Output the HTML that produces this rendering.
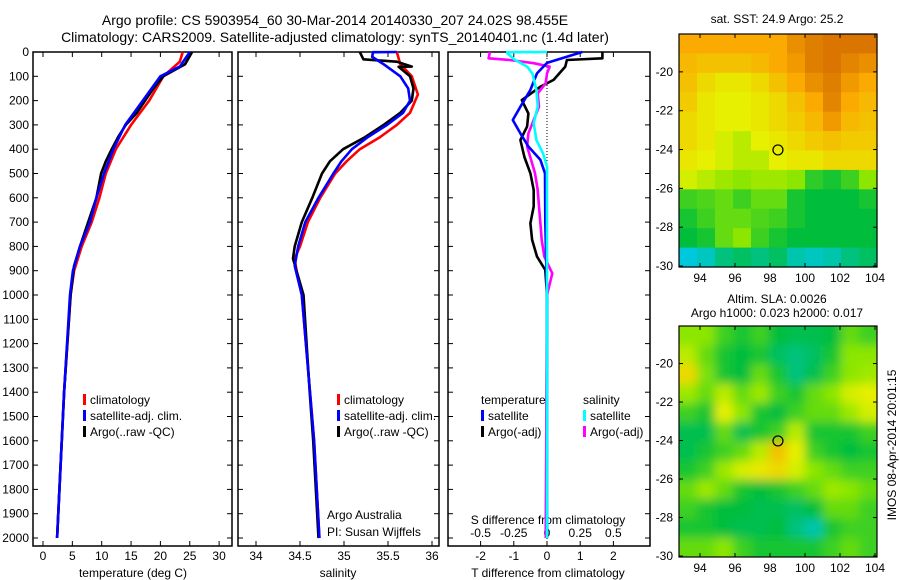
<!DOCTYPE html>
<html><head><meta charset="utf-8"><style>
body{margin:0;background:#fff;}
svg{display:block;font-family:"Liberation Sans",sans-serif;}
</style></head><body>
<svg id="s" width="900" height="580" xmlns="http://www.w3.org/2000/svg">
<defs><filter id="blur" x="0" y="0" width="100%" height="100%"><feGaussianBlur stdDeviation="5"/></filter>
<clipPath id="c2"><rect x="679" y="326" width="198" height="231"/></clipPath></defs>
<g font-size="14" text-anchor="middle">
<text x="335" y="25">Argo profile: CS 5903954_60 30-Mar-2014 20140330_207 24.02S 98.455E</text>
<text x="335" y="42">Climatology: CARS2009. Satellite-adjusted climatology: synTS_20140401.nc (1.4d later)</text>
</g>
</svg>
<script>
// ---- data ----
const tDepthClim=[0,40,100,200,300,400,500,600,700,800,900,1000,1400,2000];
const tClim=[23.8,23.3,20.5,18.1,15,12.4,10.7,9.6,8.3,6.6,5.3,4.7,3.6,2.4];
const tDepthSat=[0,60,100,200,300,400,500,600,700,800,900,1000,1400,2000];
const tSat=[25,23.3,20,17,14,12,10.4,9.1,8,6.3,5.1,4.6,3.6,2.4];
const tDepthArgo=[0,50,100,150,200,250,300,350,400,450,500,600,700,800,880,1000,1400,2000];
const tArgo=[25.4,24.2,20.5,18.8,17.4,16,14.1,12.8,11.7,10.7,9.9,9.1,7.7,6.3,5.3,4.7,3.6,2.4];
const sDepthClim=[0,50,100,175,250,300,350,400,450,500,600,700,800,850,900,1000,1600,2000];
const sClim=[35.6,35.64,35.77,35.84,35.75,35.6,35.41,35.18,35.03,34.9,34.73,34.59,34.5,34.44,34.46,34.52,34.66,34.72];
const sDepthSat=[0,1,20,50,100,150,200,250,300,350,400,450,500,600,700,800,880,1000,1600,2000];
const sSat=[35.6,35.33,35.32,35.45,35.64,35.73,35.75,35.67,35.49,35.27,35.09,34.97,34.88,34.71,34.56,34.48,34.44,34.52,34.66,34.72];
const sDepthArgo=[0,30,40,60,61,100,150,200,250,300,350,400,450,500,600,700,800,850,900,1000,1400,1600,2000];
const sArgo=[35.18,35.22,35.6,35.77,35.62,35.75,35.79,35.77,35.64,35.45,35.24,34.99,34.84,34.75,34.64,34.52,34.44,34.42,34.46,34.54,34.61,34.65,34.71];
const dDepthTSat=[0,45,88,156,225,280,335,389,444,499,700,1000,2000];
const dTSat=[1.06,0,-0.3,-0.5,-0.8,-1.03,-0.8,-0.56,-0.2,-0.06,-0.05,0,0];
const dDepthTArgo=[0,26,33,60,115,143,198,253,307,362,432,499,568,636,705,773,842,897,1000,2000];
const dTArgo=[1.67,1.67,0.6,0.55,0.2,-0.2,-0.76,-0.56,-0.6,-0.8,-0.68,-0.5,-0.4,-0.4,-0.5,-0.45,-0.3,-0.05,0,-0.02];
const dDepthSArgo=[0,26,33,46,60,88,129,170,225,280,335,389,444,499,568,636,705,773,842,911,1000,2000];
const dSArgo=[-0.43,-0.44,-0.28,-0.1,0.02,0.0,-0.01,-0.07,-0.06,-0.1,-0.14,-0.15,-0.12,-0.09,-0.07,-0.06,-0.05,-0.04,-0.02,0.04,0,-0.01];
const dDepthSSat=[0,1,5,33,60,88,156,225,293,362,417,472,2000];
const dSSat=[0,-0.3,-0.3,-0.24,-0.15,-0.11,-0.08,-0.07,-0.1,-0.08,-0.03,0,0];
const depthTicks=[0,100,200,300,400,500,600,700,800,900,1000,1100,1200,1300,1400,1500,1600,1700,1800,1900,2000];
const tTicks=[0,5,10,15,20,25,30];
const sTicks=[34,34.5,35,35.5,36];
const sTickLabels=["34","34.5","35","35.5","36"];
const dTTicks=[-2,-1,0,1,2];
const dSTicks=[-0.5,-0.25,0,0.25,0.5];
const lonTicks=[94,96,98,100,102,104];
const latTicks=[-20,-22,-24,-26,-28,-30];
const sstGrid=[
[.85,.85,.85,.85,.85,.85,.9,.93,.95,.95,.95],
[.82,.8,.8,.8,.82,.85,.88,.93,.95,.92,.9],
[.8,.75,.72,.72,.75,.8,.85,.9,.93,.88,.85],
[.78,.72,.7,.7,.72,.75,.8,.85,.92,.85,.82],
[.75,.72,.7,.7,.72,.75,.78,.82,.88,.82,.8],
[.75,.72,.68,.65,.7,.72,.75,.78,.8,.78,.78],
[.72,.7,.68,.65,.65,.7,.72,.72,.75,.75,.75],
[.68,.65,.62,.6,.62,.62,.6,.48,.45,.5,.6],
[.5,.52,.55,.5,.55,.55,.45,.42,.42,.42,.45],
[.45,.5,.55,.55,.52,.5,.45,.42,.42,.42,.42],
[.42,.45,.55,.6,.5,.45,.42,.42,.42,.42,.42],
[.25,.28,.35,.38,.35,.38,.3,.28,.3,.35,.38]];
const slaGrid=[
[.6,.6,.5,.45,.5,.42,.4,.4,.42,.55,.5],
[.65,.55,.45,.42,.45,.38,.35,.38,.45,.6,.6],
[.75,.58,.45,.42,.55,.45,.35,.4,.5,.6,.62],
[.62,.55,.65,.55,.62,.5,.45,.55,.6,.68,.7],
[.5,.45,.7,.6,.45,.42,.5,.55,.55,.62,.68],
[.4,.4,.55,.4,.45,.5,.65,.45,.45,.45,.5],
[.4,.45,.5,.55,.65,.8,.7,.5,.45,.42,.45],
[.45,.5,.62,.68,.72,.75,.68,.6,.55,.5,.5],
[.55,.62,.55,.45,.42,.45,.5,.55,.62,.6,.55],
[.5,.45,.42,.42,.4,.4,.38,.42,.55,.55,.5],
[.45,.45,.42,.4,.4,.42,.35,.3,.45,.5,.5],
[.55,.55,.6,.5,.45,.45,.45,.45,.5,.55,.5]];
const argoLon=98.455, argoLat=-24.02;

// ---- helpers ----
const svg=document.getElementById('s');
const NS='http://www.w3.org/2000/svg';
function el(tag,attrs,parent){const e=document.createElementNS(NS,tag);for(const k in attrs)e.setAttribute(k,attrs[k]);(parent||svg).appendChild(e);return e;}
function txt(x,y,s,attrs,parent){const e=el('text',Object.assign({x:x,y:y,'font-size':12},attrs||{}),parent);e.textContent=s;return e;}
const Y=d=>52+0.243*d;
const xT=t=>43+5.87*t;
const xS=s=>256+88*(s-34);
const xD=d=>547+33.2*d;
const xDS=d=>547+132.8*d;
const bottom=546;
const panels=[[33,232],[238,439],[448,650]];

panels.forEach((p,i)=>{
  const g=el('g',{});
  
  
  el('rect',{x:p[0],y:Y(0),width:p[1]-p[0],height:bottom-Y(0),fill:'none',stroke:'#000','stroke-width':1.5},g);
  depthTicks.forEach(d=>{
    el('line',{x1:p[0],x2:p[0]+5,y1:Y(d),y2:Y(d),stroke:'#000'},g);
    el('line',{x1:p[1],x2:p[1]-5,y1:Y(d),y2:Y(d),stroke:'#000'},g);
  });
});
const yl=el('g',{'font-size':12,'text-anchor':'end'});


depthTicks.forEach(d=>txt(29,Y(d)+4,String(d),{},yl));

function xticks(vals,labels,fx,p,ly,parent){
  vals.forEach((v,i)=>{
    el('line',{x1:fx(v),x2:fx(v),y1:Y(0),y2:Y(0)+5,stroke:'#000'},parent);
    el('line',{x1:fx(v),x2:fx(v),y1:bottom,y2:bottom-5,stroke:'#000'},parent);
    if(labels)txt(fx(v),ly,labels[i],{'text-anchor':'middle'},parent);
  });
}
const ax1=el('g',{});
xticks(tTicks,tTicks.map(String),xT,panels[0],560,ax1);
txt(133,577,'temperature (deg C)',{'text-anchor':'middle'},ax1);
const ax2=el('g',{});
xticks(sTicks,sTickLabels,xS,panels[1],560,ax2);
txt(338,577,'salinity',{'text-anchor':'middle'},ax2);
const ax3=el('g',{});
xticks(dTTicks,dTTicks.map(String),xD,panels[2],560,ax3);
txt(548,577,'T difference from climatology',{'text-anchor':'middle'},ax3);
dSTicks.forEach(v=>txt(xDS(v),537,String(v),{'text-anchor':'middle'},ax3));
txt(548,524,'S difference from climatology',{'text-anchor':'middle'},ax3);
el('line',{x1:xD(0),x2:xD(0),y1:Y(0),y2:bottom,stroke:'#000','stroke-dasharray':'1,2'},ax3);

function line(xs,ds,fx,col,name){
  const pts=xs.map((v,i)=>fx(v).toFixed(1)+','+Y(ds[i]).toFixed(1)).join(' ');
  const e=el('polyline',{points:pts,fill:'none',stroke:col,'stroke-width':2.6,'stroke-linejoin':'round'});
  
  
}
line(tClim,tDepthClim,xT,'#f00','temp-climatology-line');
line(tArgo,tDepthArgo,xT,'#000','temp-argo-line');
line(tSat,tDepthSat,xT,'#00f','temp-satellite-line');
line(sClim,sDepthClim,xS,'#f00','sal-climatology-line');
line(sArgo,sDepthArgo,xS,'#000','sal-argo-line');
line(sSat,sDepthSat,xS,'#00f','sal-satellite-line');
line(dTArgo,dDepthTArgo,xD,'#000','tdiff-argo-line');
line(dSArgo,dDepthSArgo,xDS,'#f0f','sdiff-argo-line');
line(dTSat,dDepthTSat,xD,'#00f','tdiff-satellite-line');
line(dSSat,dDepthSSat,xDS,'#0ff','sdiff-satellite-line');

function legend(x,y,items,name){
  const g=el('g',{});
  items.forEach((it,i)=>{
    if(it[0])el('rect',{x:x,y:y+i*16-10,width:3,height:11,fill:it[0]},g);
    txt(x+(it[0]?7:0),y+i*16,it[1],{},g);
  });
}
legend(83,404,[['#f00','climatology'],['#00f','satellite-adj. clim.'],['#000','Argo(..raw -QC)']],'temp-legend');
legend(337,404,[['#f00','climatology'],['#00f','satellite-adj. clim.'],['#000','Argo(..raw -QC)']],'salinity-legend');
legend(481,404,[[null,'temperature'],['#00f','satellite'],['#000','Argo(-adj)']],'tdiff-legend');
legend(583,404,[[null,'salinity'],['#0ff','satellite'],['#f0f','Argo(-adj)']],'sdiff-legend');
txt(327,519,'Argo Australia');
txt(327,536,'PI: Susan Wijffels');

// ---- maps ----
function cmap(v){
  const st=[[0,[0,0,180]],[0.25,[0,200,220]],[0.42,[0,190,60]],[0.6,[140,230,0]],[0.7,[230,240,0]],[0.85,[250,170,0]],[1,[200,90,0]]];
  for(let i=1;i<st.length;i++){if(v<=st[i][0]){const a=st[i-1],b=st[i],f=(v-a[0])/(b[0]-a[0]);return 'rgb('+a[1].map((c,k)=>Math.round(c+(b[1][k]-c)*f)).join(',')+')';}}
  return 'rgb(200,90,0)';
}
function map(top,bot,grid,name,smooth){
  const L=679,R=877;
  const lonX=lo=>700+(lo-94)*17.5;
  const latY=la=>top+(-18.05-la)*((bot-top)/12);
  const g=el('g',{});
  const hg=el('g',smooth?{filter:'url(#blur)'}:{},el('g',smooth?{'clip-path':'url(#c2)'}:{},g));
  const rows=grid.length,cols=grid[0].length,cw=(R-L)/cols,ch=(bot-top)/rows;
  grid.forEach((row,r)=>row.forEach((v,c)=>{
    const pad=smooth?12:0;
    const x0=L+c*cw-(c==0?pad:0), y0=top+r*ch-(r==0?pad:0);
    const rc=el('rect',{x:x0,y:y0,width:cw+0.6+(c==0||c==cols-1?pad:0),height:ch+0.6+(r==0||r==rows-1?pad:0),fill:cmap(v)},hg);
    
    
  }));
  el('rect',{x:L,y:top,width:R-L,height:bot-top,fill:'none',stroke:'#000','stroke-width':1.2},g);
  lonTicks.forEach(lo=>{el('line',{x1:lonX(lo),x2:lonX(lo),y1:top,y2:top+4,stroke:'#000'},g);el('line',{x1:lonX(lo),x2:lonX(lo),y1:bot,y2:bot-4,stroke:'#000'},g);txt(lonX(lo),bot+15,String(lo),{'text-anchor':'middle'},g);});
  latTicks.forEach(la=>{el('line',{x1:R,x2:R-4,y1:latY(la),y2:latY(la),stroke:'#000'},g);el('line',{x1:L,x2:L+4,y1:latY(la),y2:latY(la),stroke:'#000'},g);txt(673,latY(la)+4,String(la),{'text-anchor':'end'},g);});
  const ci=el('circle',{cx:lonX(argoLon),cy:latY(argoLat),r:5,fill:'none',stroke:'#000','stroke-width':1.2},g);
  
  
}
map(34,267,sstGrid,'sst-map',false);
map(326,557,slaGrid,'sla-map',true);
txt(777,23,'sat. SST: 24.9  Argo: 25.2',{'text-anchor':'middle'});
txt(777,303,'Altim. SLA: 0.0026',{'text-anchor':'middle'});
txt(777,317,'Argo h1000: 0.023 h2000: 0.017',{'text-anchor':'middle'});
txt(0,0,'IMOS 08-Apr-2014 20:01:15',{'text-anchor':'middle',transform:'translate(896,445) rotate(-90)'});
</script>
</body></html>
